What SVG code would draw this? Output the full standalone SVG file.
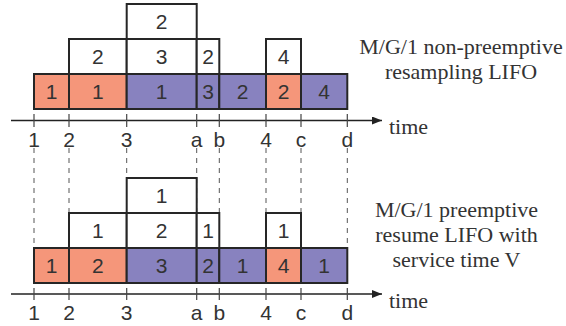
<svg xmlns="http://www.w3.org/2000/svg" width="566" height="326" viewBox="0 0 566 326">
  <style>
    .bg { fill: #ffffff; }
    .box { stroke: #262626; stroke-width: 2; }
    .w { fill: #ffffff; }
    .s { fill: #f5967a; }
    .p { fill: #8882bf; }
    .num { font-family: "Liberation Sans", Arial, sans-serif; font-size: 21px; fill: #333333; text-anchor: middle; }
    .cap { font-family: "Liberation Serif", "Times New Roman", serif; font-size: 22px; fill: #333333; text-anchor: middle; }
    .tm { font-family: "Liberation Serif", "Times New Roman", serif; font-size: 22px; fill: #333333; }
    .axis { stroke: #222222; stroke-width: 1.3; fill: none; }
    .tick { stroke: #444444; stroke-width: 1.2; }
    .dash { stroke: #555555; stroke-width: 1; stroke-dasharray: 5 5; fill: none; }
  </style>
  <defs>
    <marker id="arrow" viewBox="0 0 10 8" refX="10" refY="4" markerWidth="10" markerHeight="8" markerUnits="userSpaceOnUse" orient="auto">
      <path d="M0,0 L10,4 L0,8 Z" fill="#222222"/>
    </marker>
  </defs>
  <rect class="bg" x="0" y="0" width="566" height="326"/>

  <!-- connectors: time axes, ticks and dashed guide lines -->
  <g id="connectors">
    <g id="guides">
      <line class="dash" x1="34" y1="148" x2="34" y2="288"/>
      <line class="dash" x1="69" y1="148" x2="69" y2="288"/>
      <line class="dash" x1="126.7" y1="148" x2="126.7" y2="288"/>
      <line class="dash" x1="196.7" y1="148" x2="196.7" y2="288"/>
      <line class="dash" x1="219.3" y1="148" x2="219.3" y2="288"/>
      <line class="dash" x1="266" y1="148" x2="266" y2="288"/>
      <line class="dash" x1="301" y1="148" x2="301" y2="288"/>
      <line class="dash" x1="347.3" y1="148" x2="347.3" y2="288"/>
    </g>
    <g id="axis-top">
      <line class="axis" x1="11" y1="120.5" x2="382" y2="120.5" marker-end="url(#arrow)"/>
      <line class="tick" x1="34" y1="114" x2="34" y2="127"/>
      <line class="tick" x1="69" y1="114" x2="69" y2="127"/>
      <line class="tick" x1="126.7" y1="114" x2="126.7" y2="127"/>
      <line class="tick" x1="196.7" y1="114" x2="196.7" y2="127"/>
      <line class="tick" x1="219.3" y1="114" x2="219.3" y2="127"/>
      <line class="tick" x1="266" y1="114" x2="266" y2="127"/>
      <line class="tick" x1="301" y1="114" x2="301" y2="127"/>
      <line class="tick" x1="347.3" y1="114" x2="347.3" y2="127"/>
    </g>
    <g id="axis-bottom">
      <line class="axis" x1="11" y1="294" x2="382" y2="294" marker-end="url(#arrow)"/>
      <line class="tick" x1="34" y1="288" x2="34" y2="300"/>
      <line class="tick" x1="69" y1="288" x2="69" y2="300"/>
      <line class="tick" x1="126.7" y1="288" x2="126.7" y2="300"/>
      <line class="tick" x1="196.7" y1="288" x2="196.7" y2="300"/>
      <line class="tick" x1="219.3" y1="288" x2="219.3" y2="300"/>
      <line class="tick" x1="266" y1="288" x2="266" y2="300"/>
      <line class="tick" x1="301" y1="288" x2="301" y2="300"/>
      <line class="tick" x1="347.3" y1="288" x2="347.3" y2="300"/>
    </g>
  </g>

  <!-- axis labels -->
  <g id="labels-top" class="num">
    <text x="34" y="147">1</text>
    <text x="69" y="147">2</text>
    <text x="126.7" y="147">3</text>
    <text x="196.7" y="147">a</text>
    <text x="219.3" y="147">b</text>
    <text x="266" y="147">4</text>
    <text x="301" y="147">c</text>
    <text x="347.3" y="147">d</text>
  </g>
  <g id="labels-bottom" class="num">
    <text x="34" y="320">1</text>
    <text x="69" y="320">2</text>
    <text x="126.7" y="320">3</text>
    <text x="196.7" y="320">a</text>
    <text x="219.3" y="320">b</text>
    <text x="266" y="320">4</text>
    <text x="301" y="320">c</text>
    <text x="347.3" y="320">d</text>
  </g>
  <text class="tm" x="389" y="134">time</text>
  <text class="tm" x="389" y="308">time</text>

  <!-- upper schedule: non-preemptive resampling LIFO -->
  <g id="upper">
    <g id="u-r1-1"><rect class="box s" x="34" y="74" width="35" height="35"/><text class="num" x="51.5" y="99">1</text></g>
    <g id="u-r1-2"><rect class="box s" x="69" y="74" width="57.7" height="35"/><text class="num" x="97.8" y="99">1</text></g>
    <g id="u-r1-3"><rect class="box p" x="126.7" y="74" width="70" height="35"/><text class="num" x="161.7" y="99">1</text></g>
    <g id="u-r1-4"><rect class="box p" x="196.7" y="74" width="22.6" height="35"/><text class="num" x="208" y="99">3</text></g>
    <g id="u-r1-5"><rect class="box p" x="219.3" y="74" width="46.7" height="35"/><text class="num" x="242.6" y="99">2</text></g>
    <g id="u-r1-6"><rect class="box s" x="266" y="74" width="35" height="35"/><text class="num" x="283.5" y="99">2</text></g>
    <g id="u-r1-7"><rect class="box p" x="301" y="74" width="46.3" height="35"/><text class="num" x="324.2" y="99">4</text></g>

    <g id="u-r2-1"><rect class="box w" x="69" y="39" width="57.7" height="35"/><text class="num" x="97.8" y="64">2</text></g>
    <g id="u-r2-2"><rect class="box w" x="126.7" y="39" width="70" height="35"/><text class="num" x="161.7" y="64">3</text></g>
    <g id="u-r2-3"><rect class="box w" x="196.7" y="39" width="22.6" height="35"/><text class="num" x="208" y="64">2</text></g>
    <g id="u-r2-4"><rect class="box w" x="266" y="39" width="35" height="35"/><text class="num" x="283.5" y="64">4</text></g>

    <g id="u-r3-1"><rect class="box w" x="126.7" y="4" width="70" height="35"/><text class="num" x="161.7" y="29">2</text></g>
  </g>

  <!-- lower schedule: preemptive resume LIFO with service time V -->
  <g id="lower">
    <g id="l-r1-1"><rect class="box s" x="34" y="248" width="35" height="35"/><text class="num" x="51.5" y="273">1</text></g>
    <g id="l-r1-2"><rect class="box s" x="69" y="248" width="57.7" height="35"/><text class="num" x="97.8" y="273">2</text></g>
    <g id="l-r1-3"><rect class="box p" x="126.7" y="248" width="70" height="35"/><text class="num" x="161.7" y="273">3</text></g>
    <g id="l-r1-4"><rect class="box p" x="196.7" y="248" width="22.6" height="35"/><text class="num" x="208" y="273">2</text></g>
    <g id="l-r1-5"><rect class="box p" x="219.3" y="248" width="46.7" height="35"/><text class="num" x="242.6" y="273">1</text></g>
    <g id="l-r1-6"><rect class="box s" x="266" y="248" width="35" height="35"/><text class="num" x="283.5" y="273">4</text></g>
    <g id="l-r1-7"><rect class="box p" x="301" y="248" width="46.3" height="35"/><text class="num" x="324.2" y="273">1</text></g>

    <g id="l-r2-1"><rect class="box w" x="69" y="213" width="57.7" height="35"/><text class="num" x="97.8" y="238">1</text></g>
    <g id="l-r2-2"><rect class="box w" x="126.7" y="213" width="70" height="35"/><text class="num" x="161.7" y="238">2</text></g>
    <g id="l-r2-3"><rect class="box w" x="196.7" y="213" width="22.6" height="35"/><text class="num" x="208" y="238">1</text></g>
    <g id="l-r2-4"><rect class="box w" x="266" y="213" width="35" height="35"/><text class="num" x="283.5" y="238">1</text></g>

    <g id="l-r3-1"><rect class="box w" x="126.7" y="178" width="70" height="35"/><text class="num" x="161.7" y="203">1</text></g>
  </g>

  <!-- captions -->
  <g id="caption-top" class="cap">
    <text x="461" y="54">M/G/1 non-preemptive</text>
    <text x="461" y="79">resampling LIFO</text>
  </g>
  <g id="caption-bottom" class="cap">
    <text x="456.5" y="217">M/G/1 preemptive</text>
    <text x="456.5" y="242">resume LIFO with</text>
    <text x="456.5" y="266.5">service time V</text>
  </g>
</svg>
